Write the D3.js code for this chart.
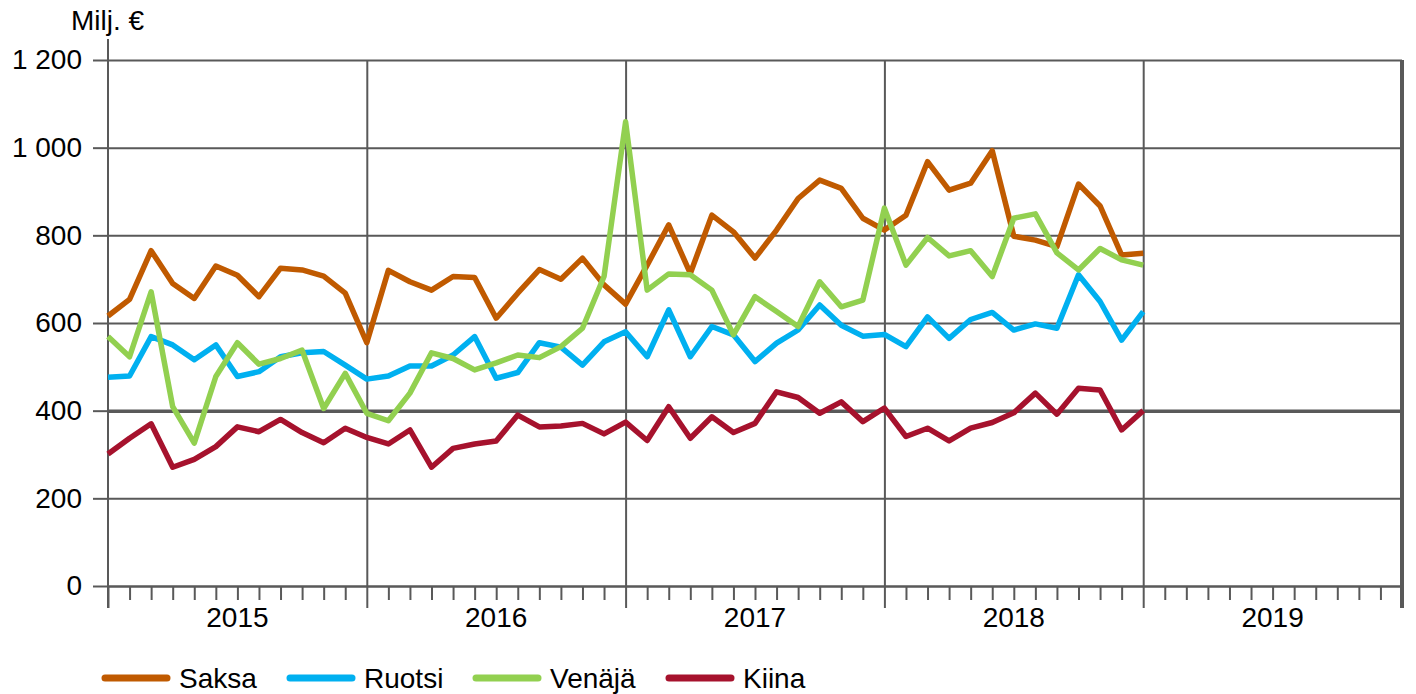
<!DOCTYPE html>
<html>
<head>
<meta charset="utf-8">
<style>
  body { margin: 0; background: #fff; }
  svg { display: block; font-family: Arial, 'Liberation Sans', sans-serif; }
  .grid line { stroke: #595959; stroke-width: 2; }
  .grid path { display: none; }
</style>
</head>
<body>
<svg width="1416" height="694"></svg>
<script src="https://d3js.org/d3.v7.min.js"></script>
<script>
// monthly values, Jan 2015 ... Jan 2019 (49 months)
let years = [2015, 2016, 2017, 2018, 2019]
let yTicks = [0, 200, 400, 600, 800, 1000, 1200]

let saksa = [616, 654, 765, 690, 656, 730, 709, 660, 725, 721, 707, 668,
    555, 720, 694, 675, 706, 704, 611, 668, 722, 700, 748, 687,
    643, 732, 824, 713, 846, 808, 748, 812, 884, 926, 907, 839,
    812, 846, 968, 903, 919, 993, 798, 789, 774, 917, 867, 755, 759]
let ruotsi = [476, 479, 569, 550, 516, 550, 478, 489, 523, 532, 535, 504,
    472, 479, 502, 502, 527, 569, 474, 487, 555, 545, 504, 557,
    580, 523, 630, 523, 592, 573, 512, 554, 584, 641, 595, 570,
    574, 546, 614, 565, 608, 624, 584, 598, 588, 710, 649, 561, 626]
let venaja = [569, 523, 671, 409, 326, 478, 555, 506, 519, 538, 405, 485,
    394, 377, 440, 532, 519, 493, 509, 527, 521, 546, 588, 706,
    1059, 675, 712, 710, 675, 573, 660, 626, 592, 694, 637, 652,
    862, 732, 795, 753, 765, 706, 839, 849, 760, 721, 770, 744, 732]
let kiina = [301, 337, 370, 271, 289, 318, 363, 352, 380, 350, 327, 360,
    339, 324, 356, 271, 314, 324, 331, 390, 363, 365, 371, 347,
    374, 332, 409, 337, 386, 350, 371, 443, 430, 394, 420, 375,
    406, 341, 360, 331, 360, 373, 395, 440, 392, 451, 447, 356, 400]

let seriesNames = ["Saksa", "Ruotsi", "Venäjä", "Kiina"]
let seriesColors = ["#C05A00", "#00B0F0", "#92D050", "#A6122D"]
let seriesValues = [saksa, ruotsi, venaja, kiina]

let svg = d3.select("svg")
let plotLeft = 108, plotRight = 1402, plotTop = 60, plotBottom = 586
let fontSize = 28

let x = d3.scaleLinear().domain([0, years.length * 12]).range([plotLeft, plotRight])
let y = d3.scaleLinear().domain([0, 1200]).range([plotBottom, plotTop])

let fmt = v => d3.format(",")(v).replace(/,/g, " ")

// horizontal grid lines
svg.append("g")
    .attr("class", "grid")
    .attr("transform", `translate(${plotLeft},0)`)
    .call(d3.axisLeft(y).tickValues(yTicks).tickSize(-(plotRight - plotLeft)).tickFormat(""))
    .selectAll("line")
    .style("stroke-width", d => d == 400 ? 3.5 : 2)

// vertical year lines
svg.append("g")
    .attr("class", "grid")
    .attr("transform", `translate(0,${plotBottom})`)
    .call(d3.axisBottom(x).tickValues(years.slice(1).map((d, i) => (i + 1) * 12))
        .tickSizeInner(-(plotBottom - plotTop)).tickSizeOuter(0).tickFormat(""))

// right border
svg.append("line")
    .attr("x1", x(years.length * 12)).attr("x2", x(years.length * 12))
    .attr("y1", plotTop).attr("y2", plotBottom + 22)
    .attr("stroke", "#595959").attr("stroke-width", 4)

// y axis with labels
let yAxis = svg.append("g")
    .attr("transform", `translate(${plotLeft},0)`)
    .call(d3.axisLeft(y).tickValues(yTicks).tickSize(15).tickPadding(11).tickFormat(fmt))
yAxis.select(".domain").remove()
yAxis.selectAll("line").attr("stroke", "#595959").attr("stroke-width", 2)
yAxis.selectAll("text")
    .attr("font-size", fontSize).attr("fill", "#000")
    .attr("font-family", "Arial, 'Liberation Sans', sans-serif")

svg.append("line")
    .attr("x1", plotLeft).attr("x2", plotLeft)
    .attr("y1", plotTop - 21).attr("y2", plotBottom + 22)
    .attr("stroke", "#595959").attr("stroke-width", 2)

// x axis: month ticks + year ticks
let xAxis = svg.append("g")
    .attr("transform", `translate(0,${plotBottom})`)
    .call(d3.axisBottom(x).tickValues(d3.range(0, years.length * 12 + 1))
        .tickSizeInner(14).tickSizeOuter(0).tickFormat(""))
xAxis.select(".domain").attr("stroke", "#595959").attr("stroke-width", 2)
xAxis.selectAll(".tick line")
    .attr("stroke", "#595959").attr("stroke-width", 2)
    .attr("y2", d => d % 12 == 0 ? 22 : 14)

svg.append("g")
    .selectAll("text")
    .data(years)
    .join("text")
    .attr("x", (d, i) => x(i * 12 + 6))
    .attr("y", 627)
    .attr("text-anchor", "middle")
    .attr("font-size", fontSize)
    .text(d => d)

svg.append("text")
    .attr("x", 71).attr("y", 30)
    .attr("font-size", fontSize)
    .text("Milj. €")

// lines
let line = d3.line().x((d, i) => x(i)).y(d => y(d))
svg.append("g")
    .selectAll("path")
    .data(seriesValues)
    .join("path")
    .attr("d", line)
    .attr("fill", "none")
    .attr("stroke", (d, i) => seriesColors[i])
    .attr("stroke-width", 5.5)
    .attr("stroke-linejoin", "round")

// legend
let legendX = [105, 290, 476, 669]
let legend = svg.append("g")
    .selectAll("g")
    .data(seriesNames)
    .join("g")
    .attr("transform", (d, i) => `translate(${legendX[i]},678)`)
legend.append("line")
    .attr("x1", 0).attr("x2", 62)
    .attr("stroke", (d, i) => seriesColors[i])
    .attr("stroke-width", 7)
    .attr("stroke-linecap", "round")
legend.append("text")
    .attr("x", 74).attr("y", 10)
    .attr("font-size", fontSize)
    .text(d => d)
</script>
</body>
</html>
